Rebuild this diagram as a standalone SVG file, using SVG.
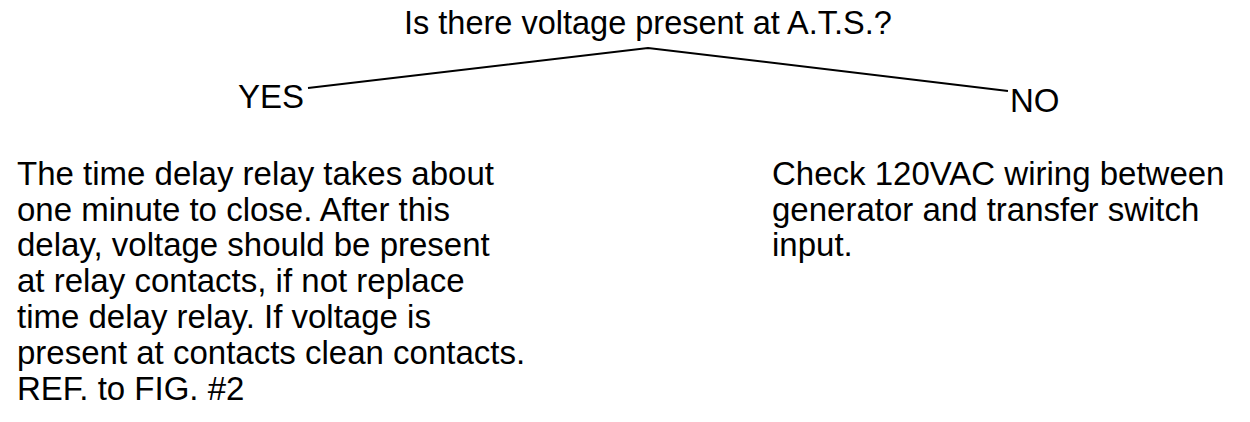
<svg xmlns="http://www.w3.org/2000/svg" width="1250" height="422" viewBox="0 0 1250 422">
<style>
text{font-family:"Liberation Sans",Arial,sans-serif;font-size:33px;fill:#000}
.t{font-size:32.5px}
.c{fill:none;stroke:#000;stroke-width:2}
</style>
<rect width="1250" height="422" fill="#fff"/>
<g id="question"><text class="t" x="404" y="34">Is there voltage present at A.T.S.?</text></g>
<g id="yes"><text x="304" y="108" text-anchor="end">YES</text></g>
<g id="no"><text x="1010" y="112">NO</text></g>
<g id="yes-action">
<text x="17" y="185">The time delay relay takes about</text>
<text x="17" y="221">one minute to close. After this</text>
<text x="17" y="256">delay, voltage should be present</text>
<text x="17" y="292">at relay contacts, if not replace</text>
<text x="17" y="328">time delay relay. If voltage is</text>
<text x="17" y="364">present at contacts clean contacts.</text>
<text x="17" y="400">REF. to FIG. #2</text>
</g>
<g id="no-action">
<text x="772" y="185">Check 120VAC wiring between</text>
<text x="772" y="221">generator and transfer switch</text>
<text x="772" y="256">input.</text>
</g>
<g id="connectors">
<polyline class="c" points="308,88 648,48 1008,91"/>
</g>
</svg>
